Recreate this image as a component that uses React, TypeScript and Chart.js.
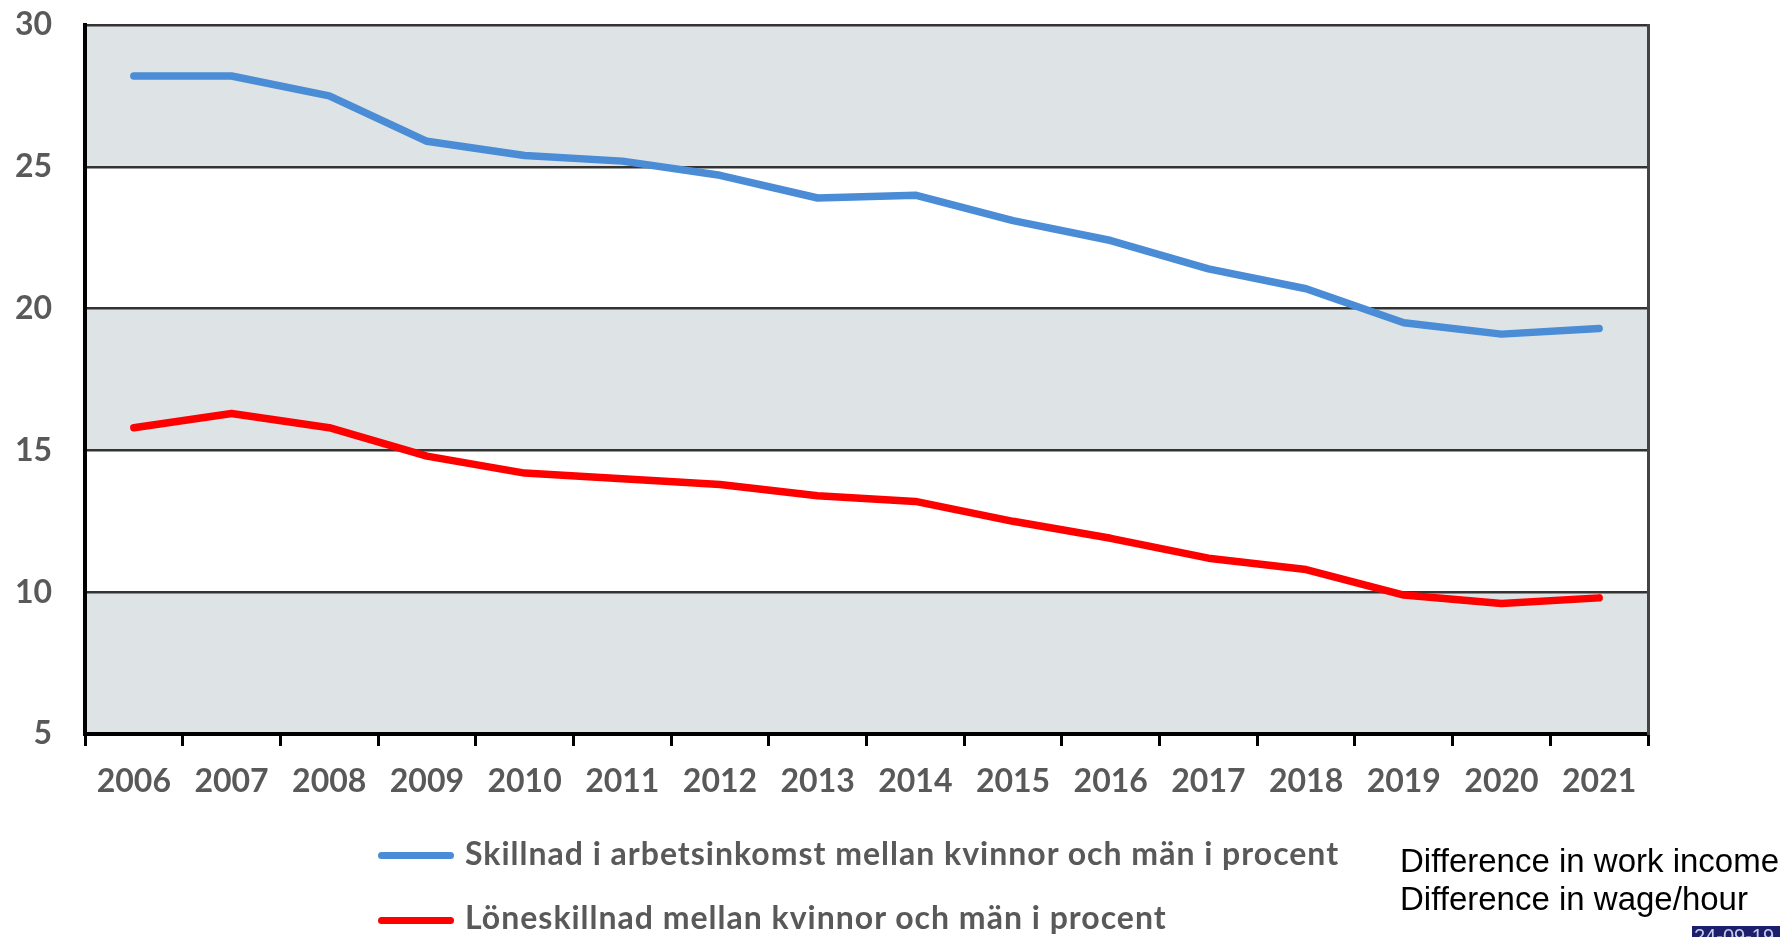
import { useEffect, useRef } from "react";
import { Chart, registerables } from "chart.js";

Chart.register(...registerables);

const years = ["2006", "2007", "2008", "2009", "2010", "2011", "2012", "2013", "2014", "2015", "2016", "2017", "2018", "2019", "2020", "2021"];
const workIncomeGap = [28.2, 28.2, 27.5, 25.9, 25.4, 25.2, 24.7, 23.9, 24.0, 23.1, 22.4, 21.4, 20.7, 19.5, 19.1, 19.3];
const wageGap = [15.8, 16.3, 15.8, 14.8, 14.2, 14.0, 13.8, 13.4, 13.2, 12.5, 11.9, 11.2, 10.8, 9.9, 9.6, 9.8];
const yTicks = [5, 10, 15, 20, 25, 30];
const seriesLabels = [
  "Skillnad i arbetsinkomst mellan kvinnor och män i procent",
  "Löneskillnad mellan kvinnor och män i procent",
];
const noteLabels = ["Difference in work income", "Difference in wage/hour"];
const dateStamp = "24-09-19";

const BLUE = "#4a8cd6";
const RED = "#ff0000";
const BAND = "#dee3e6";
const TEXT = "#595959";

const bandPlugin = {
  id: "bands",
  beforeDraw(chart: any) {
    const { ctx, chartArea, scales } = chart;
    const y = scales.y;
    ctx.save();
    ctx.fillStyle = BAND;
    for (let i = 0; i < yTicks.length - 1; i++) {
      if (i % 2 === 0) {
        const top = y.getPixelForValue(yTicks[i + 1]);
        const bot = y.getPixelForValue(yTicks[i]);
        ctx.fillRect(chartArea.left, top, chartArea.right - chartArea.left, bot - top);
      }
    }
    ctx.restore();
  },
};

function zeroPad(s: any) {
  s.paddingTop = 0;
  s.paddingBottom = 0;
  s.paddingLeft = 0;
  s.paddingRight = 0;
}

export default function App() {
  const canvasRef = useRef<HTMLCanvasElement | null>(null);

  useEffect(() => {
    if (!canvasRef.current) return;
    const tickFont = { family: "Lato", size: 32, weight: "bold" as const };
    const chart = new Chart(canvasRef.current, {
      type: "line",
      data: {
        labels: years,
        datasets: [
          {
            label: seriesLabels[0],
            data: workIncomeGap,
            borderColor: BLUE,
            backgroundColor: BLUE,
            borderWidth: 7.5,
            pointRadius: 0,
            tension: 0,
            borderCapStyle: "round",
            borderJoinStyle: "round",
          },
          {
            label: seriesLabels[1],
            data: wageGap,
            borderColor: RED,
            backgroundColor: RED,
            borderWidth: 7.5,
            pointRadius: 0,
            tension: 0,
            borderCapStyle: "round",
            borderJoinStyle: "round",
          },
        ],
      },
      options: {
        animation: false,
        responsive: false,
        maintainAspectRatio: false,
        layout: { padding: { top: 25, left: 0, right: 0, bottom: 0 } },
        plugins: {
          legend: { display: false },
          tooltip: { enabled: false },
        },
        scales: {
          x: {
            type: "category",
            offset: true,
            grid: {
              offset: true,
              drawOnChartArea: false,
              drawTicks: true,
              tickLength: 12,
              color: "#000",
              lineWidth: 3,
            },
            border: { display: true, color: "#000", width: 4 },
            ticks: {
              font: tickFont,
              color: TEXT,
              padding: 16,
              maxRotation: 0,
              autoSkip: false,
            },
            afterFit(s: any) {
              s.height = 203;
              zeroPad(s);
            },
          },
          y: {
            type: "linear",
            min: 5,
            max: 30,
            ticks: {
              stepSize: 5,
              font: tickFont,
              color: TEXT,
              padding: 33,
            },
            grid: { color: "#333", lineWidth: 2.5, drawTicks: false },
            border: { display: true, color: "#000", width: 4 },
            afterFit(s: any) {
              s.width = 85;
              zeroPad(s);
            },
          },
          y2: {
            type: "linear",
            position: "right",
            min: 5,
            max: 30,
            ticks: { display: false },
            grid: { drawOnChartArea: false, drawTicks: false },
            border: { display: true, color: "#444", width: 3 },
            afterFit(s: any) {
              s.width = 132;
              zeroPad(s);
            },
          },
        },
      },
      plugins: [bandPlugin],
    });
    return () => chart.destroy();
  }, []);

  const legendColors = [BLUE, RED];
  const swatchY = [855, 920];
  const textTop = [837, 901];
  const noteTop = [844, 882];

  return (
    <div
      style={{
        position: "absolute",
        left: 0,
        top: 0,
        width: 1780,
        height: 937,
        overflow: "hidden",
        background: "#fff",
      }}
    >
      <canvas ref={canvasRef} width={1780} height={937} style={{ display: "block", width: 1780, height: 937 }} />
      {seriesLabels.map((label, i) => (
        <div key={label}>
          <div
            style={{
              position: "absolute",
              left: 378,
              top: swatchY[i] - 3.5,
              width: 76,
              height: 7,
              borderRadius: 4,
              background: legendColors[i],
            }}
          />
          <div
            style={{
              position: "absolute",
              left: 465,
              top: textTop[i],
              fontFamily: "Lato",
              fontWeight: "bold",
              fontSize: 32,
              letterSpacing: 1,
              lineHeight: 1,
              color: TEXT,
              whiteSpace: "nowrap",
            }}
          >
            {label}
          </div>
        </div>
      ))}
      {noteLabels.map((note, i) => (
        <div
          key={note}
          style={{
            position: "absolute",
            left: 1400,
            top: noteTop[i],
            fontFamily: "'Liberation Sans', Arial, sans-serif",
            fontSize: 33,
            lineHeight: 1,
            color: "#000",
            whiteSpace: "nowrap",
          }}
        >
          {note}
        </div>
      ))}
      <div
        style={{
          position: "absolute",
          left: 1692,
          top: 926,
          width: 100,
          height: 20,
          background: "#1c1f6b",
          color: "#c8cce8",
          fontFamily: "'Liberation Sans', Arial, sans-serif",
          fontSize: 20,
          lineHeight: 1,
          paddingLeft: 2,
          whiteSpace: "nowrap",
        }}
      >
        {dateStamp}
      </div>
    </div>
  );
}
